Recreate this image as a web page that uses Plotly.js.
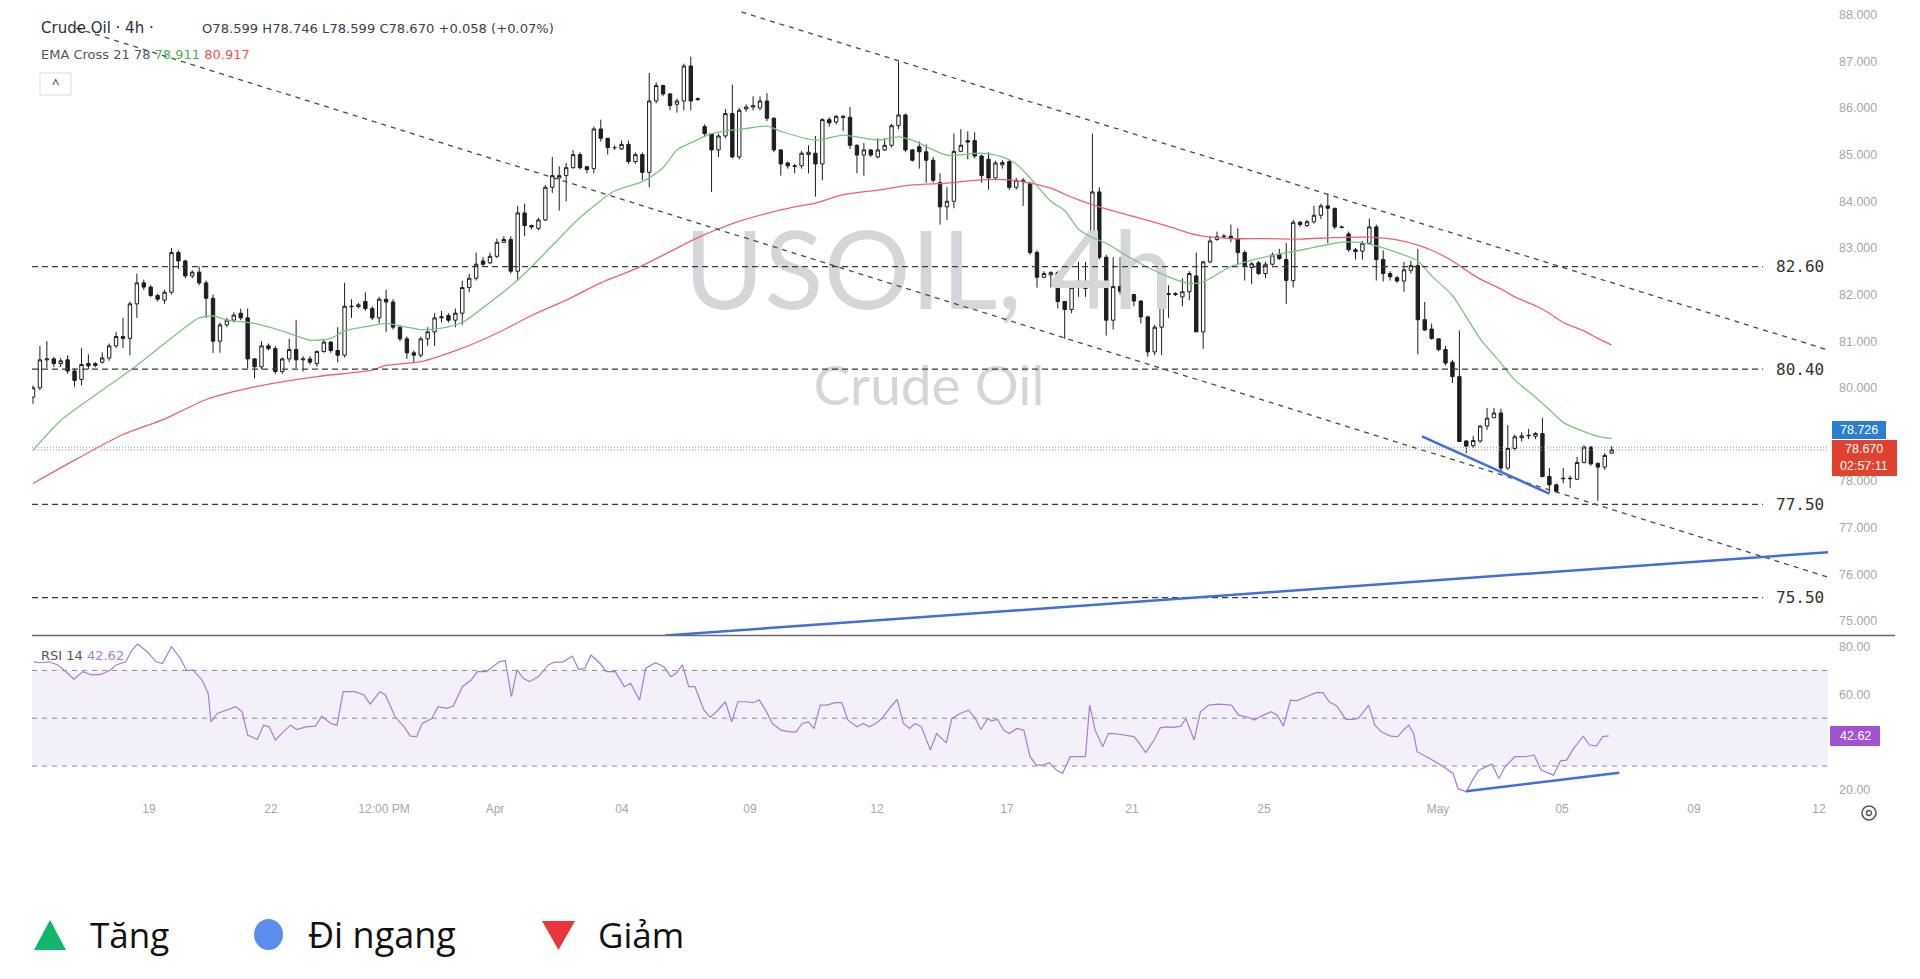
<!DOCTYPE html>
<html><head><meta charset="utf-8">
<script src="https://cdn.plot.ly/plotly-3.0.1.min.js"></script>
<style>html,body{margin:0;padding:0;background:#fff;overflow:hidden}#chart{width:1920px;height:979px}</style>
</head><body><div id="chart"></div>
<script>
// ---- OHLC (4h candles) ----
const opens = [79.80,80.00,80.60,80.62,80.52,80.60,80.36,80.18,80.52,80.48,80.55,80.64,80.90,81.10,81.06,81.80,82.25,82.16,81.98,81.88,
82.05,82.90,82.72,82.40,82.48,82.25,81.92,81.00,81.35,81.45,81.60,81.50,80.62,80.45,80.90,80.84,80.35,80.62,80.82,80.60,
80.62,80.52,80.78,80.98,80.80,80.70,81.75,81.74,81.85,81.70,81.50,81.90,81.84,81.30,81.05,80.75,80.70,81.05,81.20,81.50,
81.55,81.45,81.60,82.15,82.35,82.72,82.68,82.82,83.12,83.18,82.50,83.75,83.48,83.42,83.60,84.30,84.50,84.55,84.72,85.00,
84.74,84.70,85.55,85.35,85.15,85.12,85.22,84.85,85.00,84.62,86.15,86.48,86.30,86.08,86.15,86.90,86.18,85.60,85.45,85.10,
85.40,85.88,84.95,85.98,86.02,86.00,86.15,85.78,85.10,84.82,84.76,84.76,85.00,85.03,84.80,85.75,85.70,85.82,85.80,85.20,
84.99,85.10,84.95,85.10,85.20,85.62,85.85,85.10,85.17,85.06,84.88,84.40,83.88,84.00,85.07,85.30,85.30,84.97,84.90,84.50,
84.78,84.85,84.30,84.45,84.38,82.90,82.37,82.42,82.47,81.85,81.68,82.15,82.20,82.00,84.20,82.80,81.45,82.17,82.05,82.00,
81.86,81.52,80.77,81.30,82.00,82.02,81.95,82.06,82.40,81.20,82.70,83.18,83.24,83.25,83.20,82.90,82.58,82.68,82.45,82.65,
82.86,82.75,82.30,83.55,83.48,83.56,83.70,83.90,83.85,83.45,83.30,82.96,82.93,83.10,83.45,82.75,82.45,82.36,82.29,82.52,
82.62,81.46,81.26,81.05,80.82,80.55,80.24,78.86,78.76,78.86,79.18,79.36,79.46,78.28,78.70,78.93,78.97,78.96,79.02,78.10,
77.92,78.05,78.05,78.04,78.40,78.73,78.38,78.30,78.599];
const highs = [80.05,80.90,81.00,80.66,80.64,80.70,80.42,80.85,80.72,80.55,80.76,80.95,81.20,81.50,81.85,82.45,82.32,82.20,82.02,82.10,
83.00,82.95,82.75,82.52,82.60,82.30,82.00,81.40,81.50,81.62,81.70,81.70,80.64,81.00,80.95,80.90,80.65,81.05,81.45,80.68,
80.68,80.80,81.05,81.00,81.30,82.25,81.90,81.82,82.05,81.75,81.95,82.10,81.90,81.35,81.10,80.80,81.10,81.30,81.60,81.65,
81.60,81.70,82.30,82.45,82.90,82.80,82.90,83.20,83.25,83.25,83.90,83.95,83.50,83.65,84.35,84.95,84.75,84.82,85.10,85.05,
84.76,85.60,85.75,85.35,85.20,85.30,85.30,85.05,85.05,86.75,86.55,86.50,86.32,86.20,86.95,87.10,86.22,85.65,85.45,85.45,
85.98,86.50,86.00,86.08,86.25,86.25,86.32,85.80,85.12,84.85,84.80,85.08,85.20,85.40,85.78,85.80,85.85,85.85,86.02,85.22,
85.25,85.12,85.35,85.35,85.66,87.00,85.88,85.12,85.28,85.22,84.95,84.60,84.30,85.45,85.55,85.50,85.48,85.00,85.05,84.87,
84.88,84.90,84.50,84.50,84.42,82.95,82.50,82.50,82.50,81.86,82.20,82.70,82.70,85.45,84.30,82.85,82.80,82.80,82.10,82.00,
81.88,81.55,81.35,82.08,82.20,82.05,82.35,82.50,82.90,82.72,83.25,83.35,83.30,83.50,83.42,82.95,82.70,82.72,82.70,82.90,
82.98,83.10,83.60,83.58,83.60,83.90,83.95,84.15,83.85,83.48,83.35,83.00,83.15,83.63,83.50,82.95,82.50,82.40,82.70,82.72,
82.98,81.84,81.38,81.06,80.90,80.60,81.23,78.88,78.97,79.20,79.57,79.57,79.55,79.20,79.00,79.05,79.12,79.05,79.35,78.28,
77.95,78.28,78.12,78.52,78.77,78.75,78.40,78.60,78.746];
const lows = [79.66,79.95,80.42,80.45,80.45,80.30,80.02,80.05,80.40,80.44,80.52,80.58,80.85,80.85,80.70,81.50,82.10,81.95,81.85,81.80,
82.00,82.55,82.35,82.35,82.20,81.50,80.75,80.75,81.30,81.40,81.45,80.42,80.20,80.40,80.80,80.30,80.30,80.55,80.42,80.35,
80.50,80.45,80.75,80.75,80.55,80.65,81.50,81.70,81.65,81.45,81.38,81.20,81.25,81.00,80.62,80.55,80.65,80.90,80.90,81.40,
81.40,81.30,81.35,82.05,82.30,82.60,82.65,82.78,83.10,82.45,82.30,83.25,83.40,83.38,83.58,84.18,83.80,84.00,84.70,84.68,
84.60,84.60,85.28,85.00,85.10,85.10,84.80,84.80,84.45,84.30,86.10,86.25,85.95,85.90,85.95,85.95,86.15,85.38,84.20,84.95,
85.35,84.92,84.90,85.92,85.95,85.95,85.72,85.05,84.55,84.70,84.60,84.70,84.60,84.10,84.45,85.60,85.65,85.50,85.12,84.60,
84.55,84.95,84.92,85.08,85.15,85.55,85.05,84.85,84.70,84.40,84.40,83.50,83.60,83.85,85.05,84.90,84.92,84.40,84.25,84.45,
84.70,84.24,84.25,83.90,82.85,82.15,82.35,82.15,81.70,81.05,81.60,81.95,81.95,81.80,82.75,81.12,81.25,82.00,82.00,81.75,
81.38,80.67,80.70,80.70,81.50,81.97,81.75,81.88,81.20,80.84,82.67,83.15,83.20,83.12,82.65,82.30,82.22,82.42,82.35,82.62,
82.74,81.80,82.15,83.45,83.45,83.52,83.62,83.10,83.40,83.42,82.92,82.75,82.75,83.08,82.30,82.28,82.30,82.25,82.06,82.45,
80.72,81.22,81.03,80.78,80.48,80.10,78.84,78.60,78.71,78.82,79.10,79.35,78.20,78.24,78.65,78.85,78.90,78.90,78.08,77.75,
77.75,77.95,77.85,78.02,78.38,78.33,77.58,78.24,78.599];
const closes = [80.00,80.60,80.62,80.52,80.58,80.36,80.16,80.50,80.47,80.52,80.64,80.90,81.10,81.06,81.80,82.25,82.16,81.98,81.90,82.05,
82.90,82.72,82.40,82.48,82.25,81.92,81.00,81.35,81.45,81.56,81.50,80.62,80.45,80.90,80.84,80.35,80.62,80.82,80.60,80.62,
80.55,80.78,80.98,80.80,80.70,81.75,81.74,81.78,81.70,81.50,81.90,81.84,81.30,81.05,80.75,80.70,81.05,81.20,81.50,81.52,
81.45,81.60,82.15,82.35,82.65,82.65,82.82,83.12,83.18,82.50,83.75,83.48,83.45,83.60,84.30,84.55,84.55,84.72,85.00,84.72,
84.68,85.55,85.35,85.15,85.15,85.22,84.85,85.00,84.62,86.15,86.48,86.30,86.05,86.15,86.90,86.15,86.20,85.45,85.10,85.40,
85.88,84.95,85.95,86.02,86.05,86.15,85.78,85.10,84.80,84.76,84.75,85.03,85.05,84.80,85.75,85.68,85.82,85.80,85.20,84.99,
85.10,84.99,85.10,85.20,85.62,85.85,85.10,84.88,85.06,84.88,84.45,83.88,84.00,85.07,85.20,85.27,84.97,84.55,84.50,84.82,
84.83,84.30,84.45,84.42,82.90,82.37,82.45,82.47,81.85,81.68,82.15,82.20,82.13,84.20,82.80,81.45,82.17,82.07,82.05,81.86,
81.52,80.77,81.30,82.00,82.02,82.00,82.06,82.45,81.20,82.70,83.15,83.24,83.25,83.20,82.90,82.62,82.66,82.45,82.65,82.85,
82.77,82.30,83.55,83.50,83.56,83.70,83.90,83.85,83.45,83.44,82.96,82.92,83.10,83.45,82.75,82.45,82.38,82.29,82.53,82.62,
81.46,81.24,81.06,80.82,80.53,80.24,78.85,78.75,78.87,79.18,79.35,79.46,78.28,78.70,78.95,78.97,78.98,79.02,78.10,77.92,
77.78,78.06,78.06,78.40,78.73,78.37,78.30,78.55,78.670];

// ---- EMA Cross 21 / 78 (read at candle indices) ----
const ema21Idx = [0,4,10,15,19,22,24,26,28,32,37,40,43,45,48,51,53,56,59,62,65,70,75,79,84,88,91,93,95,98,103,106,108,113,117,122,125,127,132,137,140,142,144,147,149,151,153,155,159,164,167,169,173,178,183,188,190,193,197,200,202,205,207,209,212,214,217,219,221,224,226,228];
const ema21 = [78.66,79.30,79.95,80.48,80.95,81.30,81.50,81.54,81.45,81.38,81.17,81.02,81.06,81.22,81.31,81.38,81.33,81.25,81.28,81.40,81.72,82.31,83.05,83.65,84.22,84.42,84.72,85.10,85.25,85.45,85.56,85.61,85.50,85.31,85.42,85.31,85.38,85.31,84.99,85.03,84.95,84.80,84.50,84.00,83.80,83.40,83.22,83.10,82.74,82.38,82.24,82.27,82.60,82.81,82.95,83.10,83.13,83.08,82.90,82.72,82.40,81.98,81.52,81.05,80.53,80.17,79.80,79.53,79.26,79.06,78.96,78.911];
const ema78Idx = [0,6,13,19,25,32,41,49,51,56,62,67,72,77,82,87,92,96,101,106,110,113,117,122,127,132,137,141,144,147,149,151,154,159,164,168,173,178,183,188,193,197,200,202,205,207,209,212,214,217,219,221,224,226,228];
const ema78 = [77.95,78.45,79.00,79.33,79.75,80.02,80.24,80.38,80.48,80.56,80.85,81.17,81.55,81.88,82.25,82.55,82.92,83.22,83.52,83.74,83.88,83.96,84.14,84.24,84.35,84.39,84.46,84.46,84.39,84.28,84.15,84.03,83.88,83.67,83.46,83.28,83.20,83.20,83.19,83.22,83.23,83.17,83.06,82.95,82.72,82.52,82.33,82.12,81.95,81.76,81.60,81.40,81.22,81.06,80.917];

// ---- RSI 14 ----
const rsiIdx = [0.1,1.0,2.3,3.6,5.0,5.9,7.2,8.5,9.8,11.2,12.0,13.4,14.3,15.1,16.5,17.8,18.7,20.0,21.3,22.2,23.1,24.4,25.3,25.7,26.6,27.9,29.3,30.2,31.0,32.4,33.3,34.1,35.0,36.4,37.2,38.1,39.4,40.8,41.7,43.0,43.9,44.8,46.5,47.8,48.7,50.1,50.9,52.3,53.6,54.5,55.4,56.2,57.6,58.5,59.8,60.7,62.0,63.3,64.2,65.5,66.4,67.3,68.2,69.1,69.9,70.8,71.7,73.0,74.4,75.3,76.6,77.9,78.8,79.7,80.6,81.9,82.8,84.1,85.4,86.3,87.6,88.5,89.9,91.2,92.1,92.9,93.8,94.7,95.6,96.9,97.8,98.7,100.0,100.9,101.8,103.1,104.0,104.9,105.8,106.8,108.0,109.3,110.2,111.1,112.0,112.8,113.7,114.6,115.9,116.8,117.7,119.0,119.9,120.8,121.7,122.6,123.9,124.8,125.7,126.6,127.4,128.3,129.6,130.5,131.9,132.7,133.9,135.1,136.0,136.9,137.9,138.4,139.3,140.2,141.0,142.1,143.1,144.0,144.9,145.9,146.8,147.8,148.7,149.8,151.0,152.0,152.6,153.4,154.5,155.3,156.2,157.6,159.0,159.8,160.7,161.9,162.8,163.7,164.7,165.8,166.5,167.7,168.6,169.8,171.2,173.1,174.1,175.5,176.4,177.4,178.8,179.7,180.6,181.6,182.5,183.9,185.3,186.3,187.2,188.3,189.6,190.5,191.4,192.9,193.8,194.7,196.1,197.1,198.0,198.7,199.4,199.9,201.3,202.3,203.7,205.1,205.8,207.0,207.9,208.8,210.7,211.7,212.6,214.0,215.4,216.8,217.8,219.2,219.6,220.6,221.5,222.5,223.9,224.8,225.8,226.7,227.6];
const rsiVal = [73.6,73.2,73.6,72.3,68.8,66.3,69.5,68.1,68.3,70.2,72.3,73.6,78.5,81.0,77.8,73.6,72.9,79.9,75.0,69.9,70.2,66.0,60.4,48.5,52.0,53.4,54.8,52.7,43.0,41.1,47.1,46.4,40.9,45.0,47.1,45.3,46.4,46.7,50.9,47.8,47.1,61.1,61.1,59.7,55.9,61.1,59.7,50.6,46.4,42.5,42.3,47.8,49.9,54.8,54.1,55.1,63.2,66.0,69.5,69.5,71.6,73.6,74.1,59.0,70.2,66.7,65.3,67.4,72.3,73.4,73.6,76.0,70.4,70.9,76.4,72.9,69.5,69.5,63.2,64.6,57.6,70.9,73.2,71.3,67.4,68.8,72.3,63.2,63.2,53.4,50.4,52.7,56.9,48.5,56.9,56.9,56.5,57.6,53.4,47.8,45.0,44.3,44.3,47.8,48.5,45.7,55.5,55.5,56.5,56.5,49.2,46.4,47.8,46.4,47.8,49.9,54.8,57.9,47.8,45.7,47.8,46.4,36.7,43.6,39.7,49.9,52.0,53.4,50.4,45.3,49.9,48.9,49.5,45.0,43.6,45.7,45.0,33.9,30.4,30.4,31.4,28.3,26.9,33.9,33.9,33.9,55.5,45.0,38.1,43.6,43.6,43.0,42.3,39.5,35.6,40.9,46.0,46.4,46.2,46.7,49.9,40.9,52.7,55.5,55.9,55.5,51.3,50.4,49.2,50.9,52.7,51.3,46.7,57.6,57.3,59.0,60.7,60.7,56.9,55.1,49.5,49.5,49.9,55.5,47.1,44.3,42.5,42.3,45.3,47.1,43.6,36.0,33.9,32.2,29.7,26.9,20.6,19.2,24.1,28.3,30.8,24.8,29.7,33.9,33.9,34.6,28.3,26.9,26.2,32.2,32.5,37.4,42.5,38.8,38.4,42.3,42.62];

// ---- axis labels (79.000 and 40.00 are hidden behind the value tags in the reference) ----
const dateTickIdx = [16.75,34.37,50.69,66.72,85.07,103.55,121.89,140.67,158.72,177.79,202.92,220.83,239.89,257.94];
const dateTickText = ["19","22","12:00 PM","Apr","04","09","12","17","21","25","May","05","09","12"];
const priceTicks = [75,76,77,78,80,81,82,83,84,85,86,87,88];
const rsiTicks = [20,60,80];

// ---- drawings (index, price) ----
const levels = [82.60, 80.40, 77.50, 75.50];
const chanUpper = [[102.3,88.06],[259.7,80.79]];
const chanLower = [[6.2,87.71],[259.7,75.92]];
const blueLong = [[91.3,74.69],[259.7,76.48]];
const blueShort = [[200.6,78.96],[219.0,77.73]];
const rsiBlue = [[207.0,19.5],[229.1,27.2]];
const lastPrice = 78.670, bidPrice = 78.726;

// ---- geometry helpers (pixel -> paper) ----
const PL=32, PR=1828, PT=0, PB=800;
const px = X => (X-PL)/(PR-PL);
const py = Y => (PB-Y)/(PB-PT);
const idx = closes.map((_, i) => i);
const XR = [-0.144, 259.24];

const traces = [
  {type:'scatter', mode:'text', x:[129.4], y:[82.27], text:['USOIL, 4h'], textposition:'middle center',
   textfont:{family:'Lato', size:109, color:'#d5d6da'}, hoverinfo:'skip', xaxis:'x', yaxis:'y', cliponaxis:false},
  {type:'scatter', mode:'text', x:[129.4], y:[79.92], text:['Crude Oil'], textposition:'middle center',
   textfont:{family:'Lato', size:55, color:'#d5d6da'}, hoverinfo:'skip', xaxis:'x', yaxis:'y', cliponaxis:false},
  {type:'scatter', mode:'lines', x:ema78Idx, y:ema78, line:{color:'#f0626f', width:1.3, shape:'spline', smoothing:0.7}, hoverinfo:'skip', xaxis:'x', yaxis:'y'},
  {type:'scatter', mode:'lines', x:ema21Idx, y:ema21, line:{color:'#7cc47f', width:1.3, shape:'spline', smoothing:0.7}, hoverinfo:'skip', xaxis:'x', yaxis:'y'},
  {type:'candlestick', x:idx, open:opens, high:highs, low:lows, close:closes, xaxis:'x', yaxis:'y',
   increasing:{line:{color:'#1e1e1e', width:1}, fillcolor:'#ffffff'},
   decreasing:{line:{color:'#1e1e1e', width:1}, fillcolor:'#1e1e1e'}, hoverinfo:'skip'},
  {type:'scatter', mode:'lines', x:rsiIdx, y:rsiVal, line:{color:'#a77bd6', width:1.2}, hoverinfo:'skip', xaxis:'x2', yaxis:'y2'}
];

const shapes = [];
shapes.push({type:'rect', xref:'paper', yref:'y2', x0:0, x1:1, y0:30, y1:70, fillcolor:'rgba(126,87,194,0.09)', line:{width:0}, layer:'below'});
[70,50,30].forEach(v => shapes.push({type:'line', xref:'paper', yref:'y2', x0:0, x1:1, y0:v, y1:v, line:{color:'#8a8d95', width:1, dash:'5px,5px'}, layer:'below'}));
levels.forEach(v => shapes.push({type:'line', xref:'paper', yref:'y', x0:0, x1:px(1763), y0:v, y1:v, line:{color:'#3a3a3a', width:1.3, dash:'6px,4px'}, layer:'above'}));
shapes.push({type:'line', xref:'paper', yref:'y', x0:0, x1:1, y0:bidPrice, y1:bidPrice, line:{color:'#6fa8dc', width:1, dash:'1px,2px'}, layer:'above'});
shapes.push({type:'line', xref:'paper', yref:'y', x0:0, x1:1, y0:lastPrice, y1:lastPrice, line:{color:'#ef8080', width:1, dash:'1px,2px'}, layer:'above'});
[chanUpper, chanLower].forEach(s => shapes.push({type:'line', xref:'x', yref:'y', x0:s[0][0], y0:s[0][1], x1:s[1][0], y1:s[1][1], line:{color:'#4a4a4a', width:1.3, dash:'5px,5px'}, layer:'above'}));
[blueLong, blueShort].forEach(s => shapes.push({type:'line', xref:'x', yref:'y', x0:s[0][0], y0:s[0][1], x1:s[1][0], y1:s[1][1], line:{color:'#3f6fe0', width:2.5}, layer:'above'}));
shapes.push({type:'line', xref:'x2', yref:'y2', x0:rsiBlue[0][0], y0:rsiBlue[0][1], x1:rsiBlue[1][0], y1:rsiBlue[1][1], line:{color:'#3f6fe0', width:2.5}, layer:'above'});
shapes.push({type:'line', xref:'paper', yref:'paper', x0:px(32), x1:px(1895), y0:py(635.5), y1:py(635.5), line:{color:'#6b6b6b', width:1.5}, layer:'above'});
shapes.push({type:'rect', xref:'paper', yref:'paper', x0:px(1832), x1:px(1886), y0:py(421), y1:py(439), fillcolor:'#2b7fd0', line:{width:0}, layer:'above'});
shapes.push({type:'rect', xref:'paper', yref:'paper', x0:px(1832), x1:px(1897), y0:py(440), y1:py(476), fillcolor:'#e1412f', line:{width:0}, layer:'above'});
shapes.push({type:'rect', xref:'paper', yref:'paper', x0:px(1830), x1:px(1880), y0:py(726), y1:py(746), fillcolor:'#a052d0', line:{width:0}, layer:'above'});
shapes.push({type:'rect', xref:'paper', yref:'paper', x0:px(40), x1:px(71), y0:py(73), y1:py(95), fillcolor:'#ffffff', line:{color:'#dcdcdc', width:1}, layer:'above'});
shapes.push({type:'circle', xref:'paper', yref:'paper', x0:px(1862), x1:px(1876), y0:py(806), y1:py(820), line:{color:'#555', width:1.6}, layer:'above'});
shapes.push({type:'circle', xref:'paper', yref:'paper', x0:px(1866.5), x1:px(1871.5), y0:py(810.5), y1:py(815.5), line:{color:'#555', width:1.4}, layer:'above'});
const P = (X,Y) => px(X)+','+py(Y);
shapes.push({type:'path', xref:'paper', yref:'paper', path:'M'+P(50,920)+' L'+P(66,950)+' L'+P(34,950)+' Z', fillcolor:'#13b56b', line:{width:0}});
shapes.push({type:'circle', xref:'paper', yref:'paper', x0:px(254), x1:px(283), y0:py(919), y1:py(950), fillcolor:'#5b8def', line:{width:0}});
shapes.push({type:'path', xref:'paper', yref:'paper', path:'M'+P(542,921)+' L'+P(575,921)+' L'+P(558.5,950)+' Z', fillcolor:'#e8363a', line:{width:0}});

const ann = [];
const A = (X, Y, text, font, extra) => ann.push(Object.assign({xref:'paper', yref:'paper', x:px(X), y:py(Y), text, showarrow:false, xanchor:'left', yanchor:'middle', font}, extra||{}));
A(39, 28, 'Crude Oil · 4h ·', {family:'DejaVu Sans', size:15, color:'#2a2e39'});
A(200, 28, 'O78.599 H78.746 L78.599 C78.670 +0.058 (+0.07%)', {family:'DejaVu Sans', size:13.1, color:'#3c3f48'});
A(39, 55, 'EMA Cross 21 78 <span style="color:#4caf50">78.911</span> <span style="color:#ef5350">80.917</span>', {family:'DejaVu Sans', size:13, color:'#555'});
A(55.5, 83, '^', {family:'Open Sans', size:13, color:'#333'}, {xanchor:'center'});
A(39, 655, 'RSI 14 <span style="color:#b07cd8">42.62</span>', {family:'DejaVu Sans', size:13, color:'#555'});
levels.forEach(v => ann.push({xref:'paper', yref:'y', x:px(1774), y:v, text:v.toFixed(2), showarrow:false, xanchor:'left', yanchor:'middle', font:{family:'DejaVu Sans Mono', size:16, color:'#333'}}));
A(1859, 430, bidPrice.toFixed(3), {family:'Liberation Sans', size:12.5, color:'#fff'}, {xanchor:'center'});
A(1864, 449, lastPrice.toFixed(3), {family:'Liberation Sans', size:12.5, color:'#fff'}, {xanchor:'center'});
A(1864, 466, '02:57:11', {family:'Liberation Sans', size:12.5, color:'#fff'}, {xanchor:'center'});
A(1855, 736, rsiVal[rsiVal.length-1].toFixed(2), {family:'Liberation Sans', size:12.5, color:'#fff'}, {xanchor:'center'});
A(88, 934, 'Tăng', {family:'Open Sans', size:35, color:'#111'});
A(306, 934, 'Đi ngang', {family:'Open Sans', size:36, color:'#111'});
A(596, 934, 'Giảm', {family:'Open Sans', size:35, color:'#111'});

const tickFont = {family:'Liberation Sans', size:12.5, color:'#a4a7ae'};
const layout = {
  width:1920, height:979, margin:{l:PL, r:1920-PR, t:PT, b:979-PB, pad:0},
  paper_bgcolor:'#ffffff', plot_bgcolor:'rgba(0,0,0,0)', showlegend:false, hovermode:false, dragmode:false,
  xaxis:{domain:[0,1], anchor:'y', range:XR, showticklabels:false, showgrid:false, zeroline:false, showline:false, ticks:'', rangeslider:{visible:false}, fixedrange:true},
  xaxis2:{domain:[0,1], anchor:'y2', range:XR, tickmode:'array', tickvals:dateTickIdx, ticktext:dateTickText, showgrid:false, zeroline:false, showline:false, ticks:'', tickfont:{family:'Liberation Sans', size:12, color:'#a4a7ae'}, fixedrange:true},
  yaxis:{domain:[1-635.5/800,1], anchor:'x', side:'right', range:[74.69,88.315], tickmode:'array', tickvals:priceTicks, ticktext:priceTicks.map(v=>v.toFixed(3)), showgrid:false, zeroline:false, showline:false, ticks:'', tickfont:tickFont, ticklabelstandoff:10, fixedrange:true},
  yaxis2:{domain:[0,1-635.5/800], anchor:'x2', side:'right', range:[15.8,84.6], tickmode:'array', tickvals:rsiTicks, ticktext:rsiTicks.map(v=>v.toFixed(2)), showgrid:false, zeroline:false, showline:false, ticks:'', tickfont:tickFont, ticklabelstandoff:10, fixedrange:true},
  shapes, annotations:ann
};
Plotly.newPlot('chart', traces, layout, {displayModeBar:false, staticPlot:true});
</script>
</body></html>
